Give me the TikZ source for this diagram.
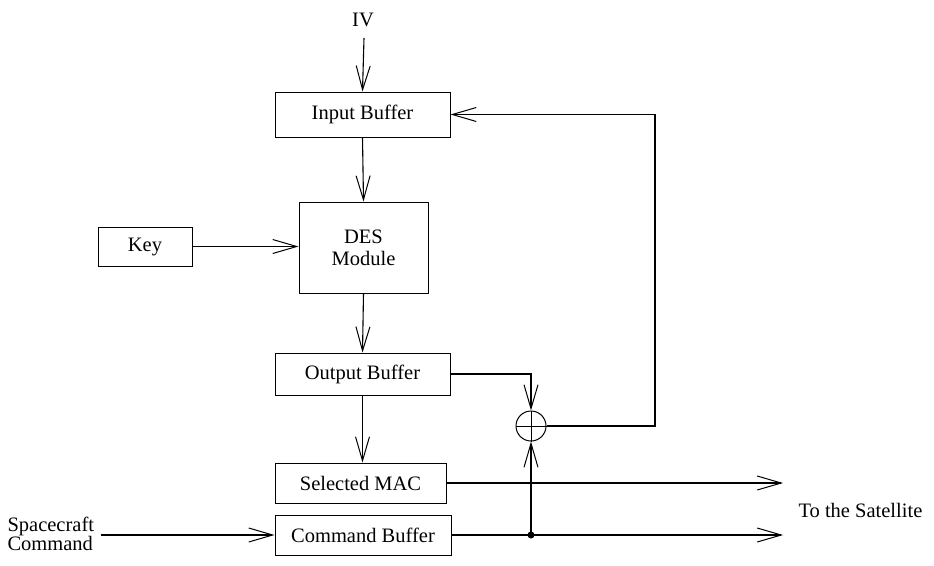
\documentclass[tikz,border=0pt]{standalone}
\usepackage{fontspec}
\setmainfont{Liberation Serif}
\usetikzlibrary{arrows.meta}
\begin{document}
\begin{tikzpicture}[x=1pt,y=-1pt,
  every node/.style={font=\fontsize{20.5}{22}\selectfont},
  blk/.style={draw,line width=1pt,rectangle,inner sep=0pt},
  conn/.style={line width=1.1pt},
  arr/.style={conn,-{Straight Barb[length=24pt,width=14pt,line width=1pt]}}]
\useasboundingbox (0,0) rectangle (934,565);
\node[blk,minimum width=175pt,minimum height=45pt] (inb) at (362.5,114.5) {Input Buffer};
\node[blk,minimum width=129pt,minimum height=91pt,align=center] (des) at (363.5,247.5) {DES\\Module};
\node[blk,minimum width=94pt,minimum height=39pt] (key) at (145,246.5) {Key};
\node[blk,minimum width=175pt,minimum height=42pt] (outb) at (362.5,374) {Output Buffer};
\node[blk,minimum width=171pt,minimum height=40pt] (mac) at (360.5,483) {Selected MAC};
\node[blk,minimum width=176pt,minimum height=40pt] (cmd) at (363,535) {Command Buffer};
\node[draw,circle,line width=1pt,minimum size=30pt,inner sep=0pt] (sum) at (531,426) {};
\draw[line width=0.8pt] (sum.north) -- (sum.south) (sum.west) -- (sum.east);
\node (iv) at (363,19.5) {IV};
\coordinate (ivs) at (364,38);
\node[anchor=west,align=left,font=\fontsize{20.5}{15.5}\selectfont] (sc) at (4,534) {Spacecraft\\Command};
\node[anchor=west] (sat) at (795,510) {To the Satellite};
\coordinate (fb) at (655,0);
\coordinate (dot) at (sum.south |- cmd.east);
\coordinate (om) at (783,483);
\coordinate (oc) at (783,535);
% connectors
\draw[arr] (ivs) -- (inb.north);
\draw[arr] (inb.south) -- (des.north);
\draw[arr] (key.east) -- (key.east -| des.west);
\draw[arr] (des.south) -- (outb.north);
\draw[arr] (outb.south) -- (outb.south |- mac.north);
\draw[arr] (outb.east) -| (sum.north);
\draw[arr] (sum.east) -- (sum.east -| fb) |- (inb.east);
\draw[arr] (mac.east) -- (om);
\draw[arr] (cmd.east) -- (oc);
\draw[arr] (dot) -- (sum.south);
\draw[arr] ([xshift=3pt]sc.east |- cmd.west) -- (cmd.west);
\fill (dot) circle (3.5pt);
\end{tikzpicture}
\end{document}
